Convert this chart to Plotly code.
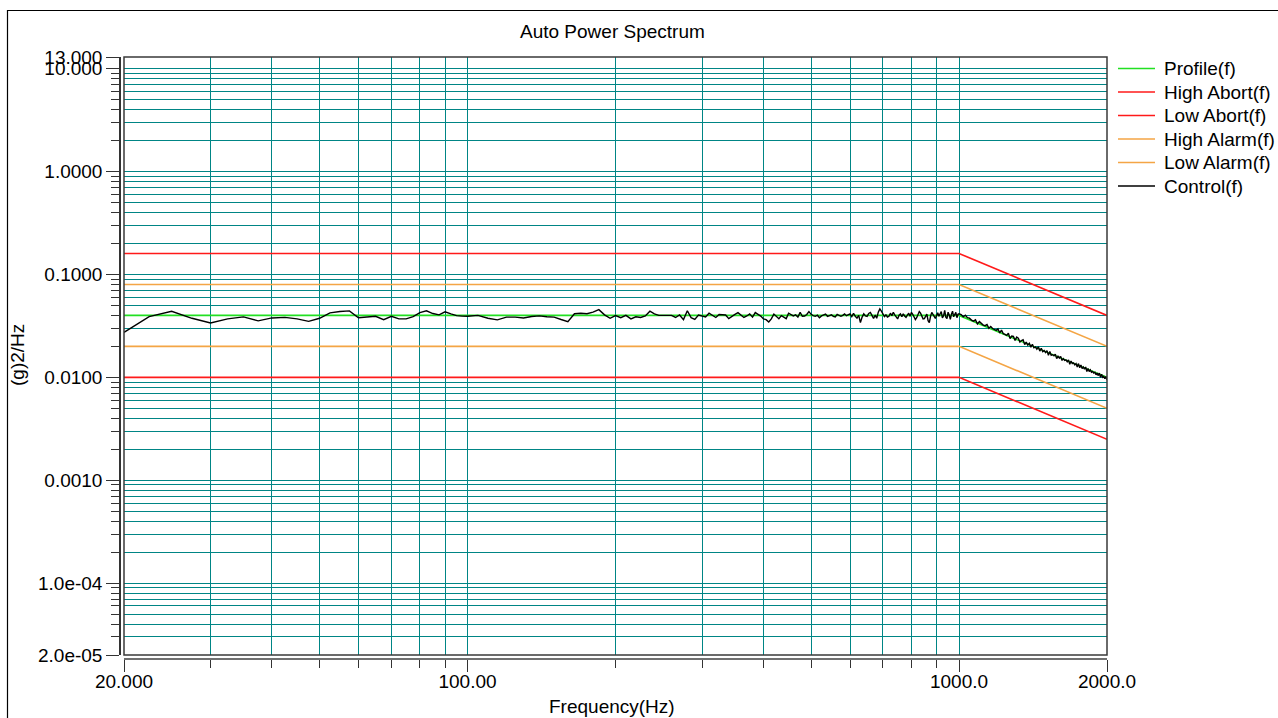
import numpy as np
import plotly.graph_objects as go

# ---------------- data ----------------
limit_freq = [20, 1000, 2000]
profile_val = [0.04, 0.04, 0.01]
high_abort_val = [0.16, 0.16, 0.04]
low_abort_val = [0.01, 0.01, 0.0025]
high_alarm_val = [0.08, 0.08, 0.02]
low_alarm_val = [0.02, 0.02, 0.005]

# control spectrum, in units of 1e-4 (g)^2/Hz
ctrl_a_e4 = [274, 389, 438, 375, 338, 370, 387, 354, 378, 383,
             370, 350, 375, 423, 436, 443, 380, 385, 392, 364,
             392, 370, 370, 389, 426, 443, 417, 405, 433, 414,
             398, 394, 392]                       # 20 .. 100 Hz, 2.5 Hz bins
ctrl_b_e4 = [400, 375, 362, 385, 385, 378, 390, 396, 388, 385,
             365, 348, 415, 420, 415, 430, 455, 405, 375, 398]  # 105 .. 200 Hz, 5 Hz
ctrl_c_e4 = [380, 400, 370, 388, 382, 395, 440, 414, 400, 398,
             396, 400, 382, 404, 364, 444, 380, 366, 404, 398,
             386, 420, 400, 382, 408, 404, 404, 372, 395, 410,
             425, 405, 382, 395, 414, 385, 426, 410, 394, 370,
             364, 345, 370, 412, 395, 372, 398, 386, 372, 420,
             405, 396, 405, 385, 428, 392, 395, 408, 436, 410,
             398, 392, 402, 380, 396, 404, 412, 392, 398, 406,
             392, 386, 410, 404, 392, 400, 414, 398, 408, 414,
             390, 420, 392, 376, 400, 340, 385, 414, 396, 392,
             418, 428, 400, 374, 402, 375, 430, 462, 440, 408,
             390, 404, 386, 392, 420, 398, 428, 405, 380, 370,
             402, 414, 388, 414, 395, 383, 402, 420, 392, 428,
             410, 388, 364, 380, 402, 436, 420, 396, 370, 372,
             394, 412, 355, 340, 392, 428, 410, 386, 374, 398,
             425, 392, 414, 436, 378, 396, 448, 384, 372, 430,
             404, 366, 412, 440, 388, 402, 428, 380, 410, 415]  # 205 .. 1000 Hz, 5 Hz
ctrl_d_e4 = [408, 388, 402, 380, 376, 360, 352, 362, 330, 348,
             334, 322, 318, 326, 300, 312, 298, 290, 286, 296,
             270, 288, 266, 262, 256, 268, 238, 252, 250, 228,
             246, 240, 220, 228, 232, 208, 220, 206, 214, 196,
             210, 194, 198, 188, 198, 180, 192, 178, 182, 174,
             182, 164, 178, 164, 166, 162, 168, 152, 160, 154,
             160, 146, 152, 146, 148, 142, 148, 134, 144, 136,
             138, 132, 136, 126, 136, 124, 132, 122, 126, 120,
             126, 114, 122, 114, 118, 112, 114, 110, 112, 106,
             110, 104, 110, 100, 107, 100, 102, 97, 102, 94]   # 1010 .. 2000 Hz, 10 Hz

ctrl_freq = np.concatenate([
    20 + 2.5 * np.arange(len(ctrl_a_e4)),
    105 + 5 * np.arange(len(ctrl_b_e4)),
    205 + 5 * np.arange(len(ctrl_c_e4)),
    1010 + 10 * np.arange(len(ctrl_d_e4)),
])
ctrl_val = np.array(ctrl_a_e4 + ctrl_b_e4 + ctrl_c_e4 + ctrl_d_e4) * 1e-4

y_tickvals = [2e-5, 1e-4, 1e-3, 1e-2, 1e-1, 1, 10, 13]
y_ticktext = ["2.0e-05", "1.0e-04", "0.0010", "0.0100", "0.1000", "1.0000", "10.000", "13.000"]
x_tickvals = [20, 100, 1000, 2000]
x_ticktext = ["20.000", "100.00", "1000.0", "2000.0"]

legend_names = ["Profile(f)", "High Abort(f)", "Low Abort(f)",
                "High Alarm(f)", "Low Alarm(f)", "Control(f)"]
legend_colors = ["#22e022", "#ff1a1a", "#ff1a1a", "#f4a545", "#f4a545", "#000000"]

# ---------------- layout helpers ----------------
W, H = 1278, 718
ML, MR, MT, MB = 120, 171, 57, 59
PW, PH = W - ML - MR, H - MT - MB


def px2x(px):
    return (px - ML) / PW


def py2y(py):
    return (H - MB - py) / PH


FONT = "Liberation Sans, Arial, sans-serif"
GRID = "#008585"

y_minor = [m * 10.0 ** e for e in range(-5, 2) for m in range(2, 10)
           if 2e-5 < m * 10.0 ** e < 13]
x_minor = [m * 10.0 ** e for e in range(1, 4) for m in range(2, 10)
           if 20 < m * 10.0 ** e < 2000]

fig = go.Figure()
limit_vals = [profile_val, high_abort_val, low_abort_val, high_alarm_val, low_alarm_val]
for name, ys, col in zip(legend_names[:5], limit_vals, legend_colors[:5]):
    fig.add_trace(go.Scatter(x=limit_freq, y=ys, mode="lines", name=name,
                             line=dict(color=col, width=1.6)))
fig.add_trace(go.Scatter(x=ctrl_freq, y=ctrl_val, mode="lines", name="Control(f)",
                         line=dict(color="#000000", width=1.4)))

shapes = [
    dict(type="rect", xref="x domain", yref="y domain", x0=0, x1=1, y0=0, y1=1,
         line=dict(color="#3a3a3a", width=1.5), layer="above"),
    dict(type="rect", xref="paper", yref="paper",
         x0=px2x(7.5), x1=px2x(1282), y0=py2y(10.5), y1=py2y(722),
         line=dict(color="#000000", width=1.2)),
]
annotations = [
    dict(text="Auto Power Spectrum", xref="paper", yref="paper",
         x=px2x(612), y=py2y(31), showarrow=False, font=dict(size=19),
         xanchor="center", yanchor="middle"),
    dict(text="Frequency(Hz)", xref="paper", yref="paper",
         x=px2x(612), y=py2y(706), showarrow=False, font=dict(size=19),
         xanchor="center", yanchor="middle"),
    dict(text="(g)2/Hz", xref="paper", yref="paper", textangle=-90,
         x=px2x(17), y=py2y(355), showarrow=False, font=dict(size=19),
         xanchor="center", yanchor="middle"),
]
# legend drawn by hand so that row spacing matches the original
for i, (name, col) in enumerate(zip(legend_names, legend_colors)):
    yc = 68.5 + i * 23.5
    shapes.append(dict(type="line", xref="paper", yref="paper",
                       x0=px2x(1118), x1=px2x(1155), y0=py2y(yc), y1=py2y(yc),
                       line=dict(color=col, width=1.3)))
    annotations.append(dict(text=name, xref="paper", yref="paper",
                            x=px2x(1162), y=py2y(yc), showarrow=False,
                            xanchor="left", yanchor="middle", font=dict(size=19)))

fig.update_layout(
    width=W, height=H,
    margin=dict(l=ML, r=MR, t=MT, b=MB, autoexpand=False),
    paper_bgcolor="white", plot_bgcolor="white",
    font=dict(family=FONT, size=19, color="#000000"),
    showlegend=False,
    xaxis=dict(type="log", range=[np.log10(20), np.log10(2000)],
               domain=[px2x(124), 1.0], anchor="free", position=0,
               tickmode="array", tickvals=x_tickvals, ticktext=x_ticktext,
               ticks="outside", ticklen=12, tickcolor="#333333", tickwidth=1.3,
               ticklabelstandoff=-7,
               showline=True, linecolor="#707070", linewidth=2,
               showgrid=True, gridcolor=GRID, gridwidth=1, zeroline=False,
               minor=dict(tickmode="array", tickvals=x_minor, ticks="outside",
                          ticklen=8, tickcolor="#333333", tickwidth=1.3,
                          showgrid=True, gridcolor=GRID, gridwidth=1)),
    yaxis=dict(type="log", range=[np.log10(2e-5), np.log10(13)],
               domain=[py2y(655), 1.0], anchor="free", position=0,
               tickmode="array", tickvals=y_tickvals, ticktext=y_ticktext,
               ticks="outside", ticklen=13, tickcolor="#333333", tickwidth=1.3,
               showline=True, linecolor="#333333", linewidth=1.5,
               showgrid=True, gridcolor=GRID, gridwidth=1, zeroline=False,
               minor=dict(tickmode="array", tickvals=y_minor, ticks="outside",
                          ticklen=8, tickcolor="#333333", tickwidth=1.3,
                          showgrid=True, gridcolor=GRID, gridwidth=1)),
    shapes=shapes,
    annotations=annotations,
)

fig.write_html("out.html")
